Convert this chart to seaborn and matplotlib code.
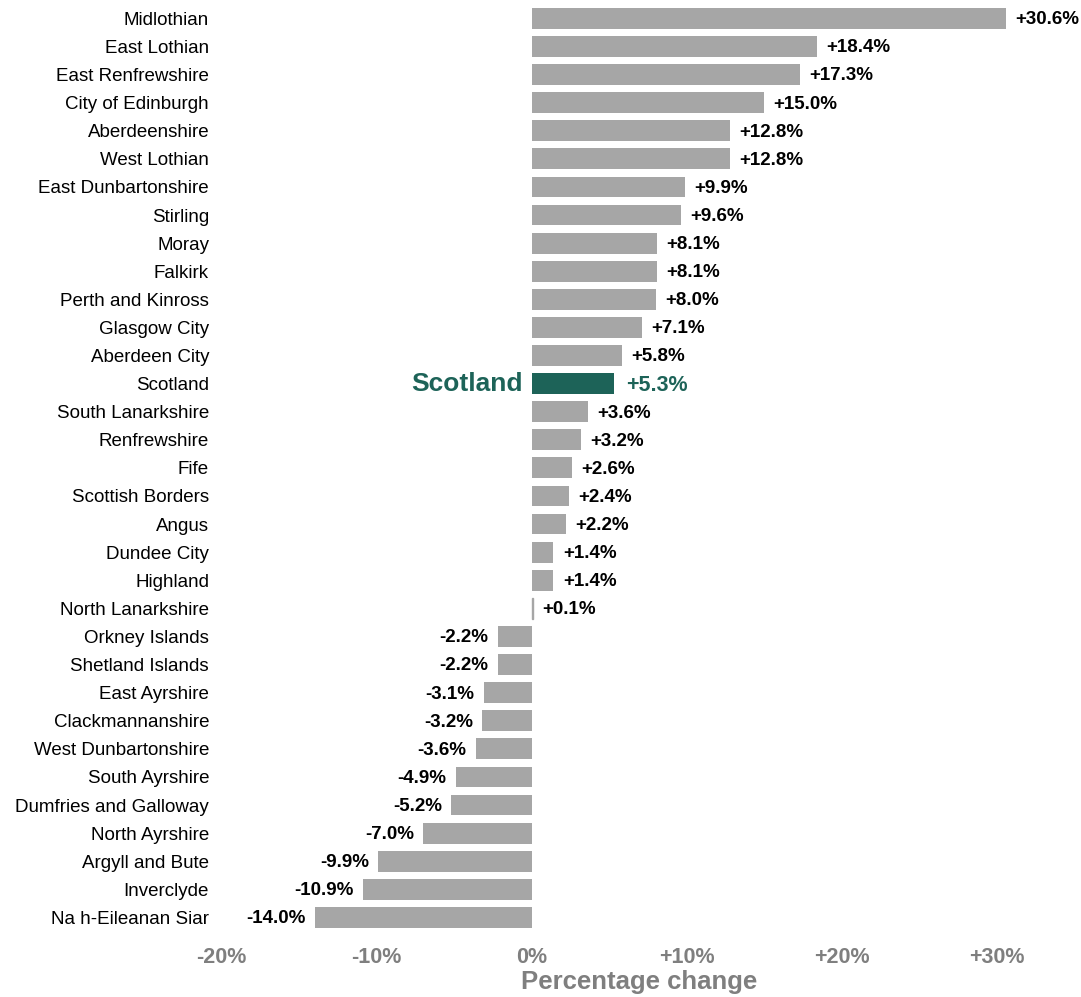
import matplotlib
matplotlib.use("Agg")
import matplotlib.pyplot as plt
import seaborn as sns
import pandas as pd

# Veränderung je Council Area (in %)
areas = ["Midlothian", "East Lothian", "East Renfrewshire", "City of Edinburgh",
         "Aberdeenshire", "West Lothian", "East Dunbartonshire", "Stirling", "Moray",
         "Falkirk", "Perth and Kinross", "Glasgow City", "Aberdeen City", "Scotland",
         "South Lanarkshire", "Renfrewshire", "Fife", "Scottish Borders", "Angus",
         "Dundee City", "Highland", "North Lanarkshire", "Orkney Islands",
         "Shetland Islands", "East Ayrshire", "Clackmannanshire", "West Dunbartonshire",
         "South Ayrshire", "Dumfries and Galloway", "North Ayrshire", "Argyll and Bute",
         "Inverclyde", "Na h-Eileanan Siar"]
changes = [30.6, 18.4, 17.3, 15.0, 12.8, 12.8, 9.9, 9.6, 8.1, 8.1, 8.0, 7.1, 5.8, 5.3,
           3.6, 3.2, 2.6, 2.4, 2.2, 1.4, 1.4, 0.1, -2.2, -2.2, -3.1, -3.2, -3.6, -4.9,
           -5.2, -7.0, -9.9, -10.9, -14.0]
xticks = [-20, -10, 0, 10, 20, 30]
xtick_labels = ["-20%", "-10%", "0%", "+10%", "+20%", "+30%"]

grey = "#a6a6a6"
green = "#1d6358"

df = pd.DataFrame({"area": areas, "change": changes})
df["grp"] = ["scot" if a == "Scotland" else "la" for a in areas]

sns.set_style("white")
plt.rcParams["font.family"] = ["Liberation Sans", "DejaVu Sans"]

fig = plt.figure(figsize=(10.81, 9.97), dpi=100)
ax = fig.add_axes([0.205, 0.0657, 0.789, 0.93])

sns.barplot(data=df, y="area", x="change", hue="grp", orient="h",
            palette={"la": grey, "scot": green}, legend=False, dodge=False,
            width=0.74, ax=ax, saturation=1, linewidth=0)
# tiny bars (North Lanarkshire) still need to show a sliver
for p in ax.patches:
    if abs(p.get_width()) < 0.3:
        p.set_edgecolor(grey)
        p.set_linewidth(1)

for i, (a, v) in enumerate(zip(areas, changes)):
    lab = f"{v:+.1f}%"
    if a == "Scotland":
        ax.text(v + 0.8, i + 0.05, lab, va="center", ha="left", fontsize=15.5,
                fontweight="bold", color=green)
        ax.text(-0.6, i, "Scotland", va="center", ha="right", fontsize=19,
                fontweight="bold", color=green)
    elif v >= 0:
        ax.text(v + 0.6, i + 0.05, lab, va="center", ha="left", fontsize=13.5,
                fontweight="bold", color="black")
    else:
        ax.text(v - 0.6, i + 0.05, lab, va="center", ha="right", fontsize=13.5,
                fontweight="bold", color="black")

ax.set_xlim(-20, 35)
ax.set_ylim(len(areas) - 0.5, -0.5)
ax.set_xticks(xticks)
ax.set_xticklabels(xtick_labels, fontsize=15.5, fontweight="bold", color="#7f7f7f")
ax.tick_params(axis="y", labelsize=13.5, length=0, pad=9, labelcolor="black")
ax.tick_params(axis="x", length=0, pad=11)
ax.set_ylabel("")
ax.set_xlabel("Percentage change", fontsize=18.5, fontweight="bold", color="#7f7f7f")
ax.xaxis.label.set_va("baseline")
ax.xaxis.set_label_coords(0.49, -0.0625)
sns.despine(ax=ax, left=True, bottom=True)

fig.savefig("out.png", dpi=100)
